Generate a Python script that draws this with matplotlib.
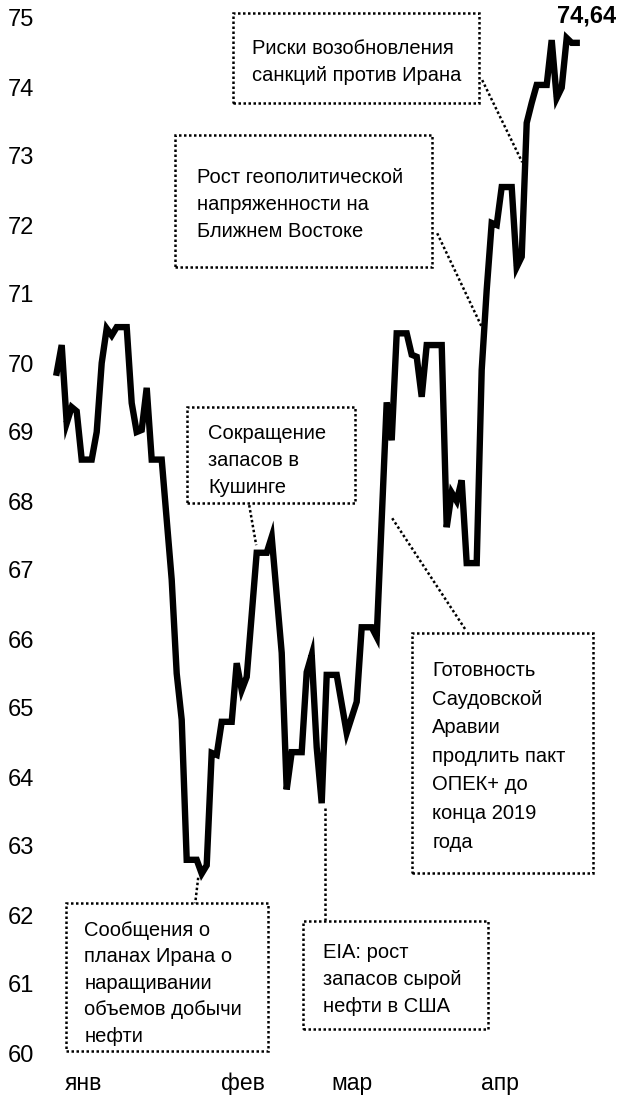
import matplotlib
matplotlib.use('Agg')
import matplotlib.pyplot as plt
from matplotlib.patches import Rectangle

plt.rcParams['font.family'] = ['Liberation Sans Narrow', 'Liberation Sans', 'DejaVu Sans']

# trading-day index (0 = start of January) and price
days = [0, 1, 2, 3, 4, 5, 7, 8, 9, 10, 11, 12, 14, 15, 16, 17, 18, 19, 21,
        23, 24, 25, 26, 28, 29, 30, 31, 32, 33, 35, 36, 37, 38, 40, 42, 43,
        45, 46, 47, 49, 50, 51, 52, 53, 54, 56, 58, 60, 61, 63, 64, 66, 67,
        68, 70, 71, 72, 73, 74, 77, 78, 79, 80, 81, 82, 84, 85, 86, 87, 88,
        89, 91, 92, 93, 94, 95, 96, 98, 99, 100, 101, 102, 103, 104]
price = [69.86, 70.26, 69.13, 69.36, 69.30, 68.60, 68.60, 69.00, 70.00, 70.50,
         70.40, 70.52, 70.52, 69.42, 69.00, 69.03, 69.64, 68.60, 68.60,
         66.86, 65.50, 64.83, 62.80, 62.80, 62.60, 62.72, 64.35, 64.32, 64.80,
         64.80, 65.65, 65.26, 65.45, 67.25, 67.25, 67.48,
         65.80, 63.82, 64.36, 64.36, 65.52, 65.77, 64.43, 63.62, 65.48, 65.48,
         64.64, 65.09, 66.17, 66.17, 66.03, 69.43, 68.88,
         70.43, 70.43, 70.12, 70.09, 69.51, 70.26, 70.26, 67.62, 68.12, 68.00,
         68.30, 67.10, 67.10, 69.90, 71.06, 72.03, 72.00,
         72.55, 72.55, 71.39, 71.54, 73.48, 73.77, 74.03, 74.03, 74.68, 73.84,
         73.99, 74.71, 74.64, 74.64]

month_pos = [5.3, 37.3, 59.1, 88.7]
month_labels = ['янв', 'фев', 'мар', 'апр']
y_ticks = list(range(60, 76))
last_label = '74,64'

notes = [
    'Риски возобновления\nсанкций против Ирана',
    'Рост геополитической\nнапряженности на\nБлижнем Востоке',
    'Сокращение\nзапасов в\nКушинге',
    'Готовность\nСаудовской\nАравии\nпродлить пакт\nОПЕК+ до\nконца 2019\nгода',
    'Сообщения о\nпланах Ирана о\nнаращивании\nобъемов добычи\nнефти',
    'EIA: рост\nзапасов сырой\nнефти в США',
]

# box (x0, y0, x1, y1), text anchor (x, y), line spacing, leader ((x0, y0), (x1, y1))
layout = [
    ((35.3, 73.77, 84.5, 75.07), (39.1, 74.36), 1.54, ((85.1, 74.10), (93.1, 72.91))),
    ((23.7, 71.39, 75.1, 73.30), (28.1, 72.30), 1.54, ((76.1, 71.88), (85.1, 70.51))),
    ((26.1, 67.97, 59.7, 69.36), (30.3, 68.59), 1.54, ((38.5, 67.94), (39.9, 67.36))),
    ((71.1, 62.61, 107.3, 66.09), (75.1, 64.30), 1.64, ((67.1, 67.75), (81.9, 66.12))),
    ((1.9, 60.03, 42.3, 62.17), (5.5, 61.01), 1.5, ((28.3, 62.54), (27.7, 62.17))),
    ((49.3, 60.35, 86.3, 61.91), (53.3, 61.06), 1.54, ((53.7, 63.55), (53.7, 61.93))),
]

fig = plt.figure(figsize=(6.2, 11.05), dpi=100)
ax = fig.add_axes([40 / 620, 52 / 1105, 570 / 620, 1035 / 1105])

ax.plot(days, price, color='black', lw=4.6, solid_joinstyle='miter', zorder=3)
ax.annotate(last_label, (days[-1], price[-1]), xytext=(10, 27),
            textcoords='offset pixels', ha='center', va='center',
            fontsize=17, fontweight='bold')

dots = (0, (1, 1))
for text, (box, anchor, ls, leader) in zip(notes, layout):
    x0, y0, x1, y1 = box
    ax.add_patch(Rectangle((x0, y0), x1 - x0, y1 - y0, fill=False, ec='black',
                           lw=1.8, linestyle=dots, clip_on=False, zorder=2))
    ax.text(anchor[0], anchor[1], text, ha='left', va='center', fontsize=14.5,
            linespacing=ls, clip_on=False)
    (lx0, ly0), (lx1, ly1) = leader
    ax.plot([lx0, lx1], [ly0, ly1], color='black', lw=1.8, linestyle=dots,
            clip_on=False, zorder=2)

ax.set_xlim(-3.34, 110.66)
ax.set_ylim(60, 75)
ax.set_yticks(y_ticks)
ax.set_xticks(month_pos)
ax.set_xticklabels(month_labels)
ax.tick_params(axis='y', length=0, pad=4, labelsize=17)
ax.tick_params(axis='x', length=0, pad=14, labelsize=16.5)
for s in ax.spines.values():
    s.set_visible(False)

fig.savefig('out.png', dpi=100)
